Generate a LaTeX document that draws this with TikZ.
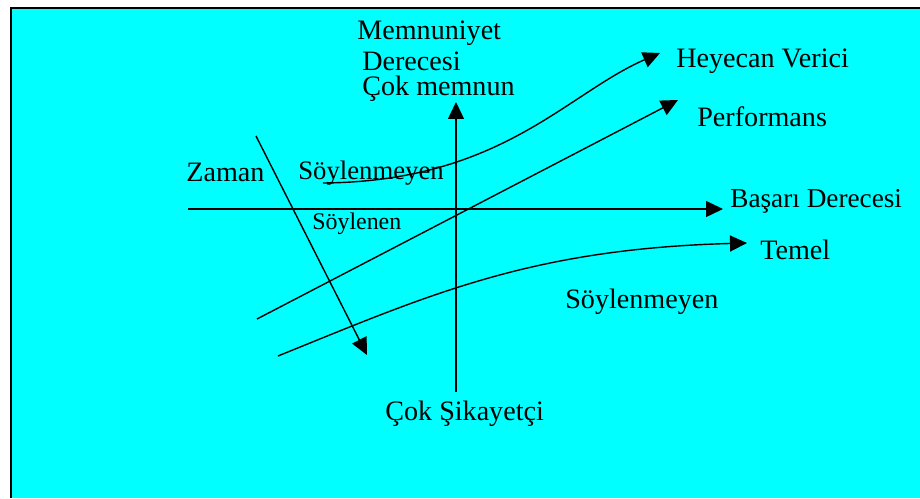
\documentclass[tikz,border=0pt]{standalone}
\usepackage{fontspec}
\setmainfont{Liberation Serif}
\usetikzlibrary{arrows.meta}
\definecolor{bgcyan}{RGB}{0,255,255}
\tikzset{
  arr/.style={line width=0.8pt, -{Triangle[length=0.34cm,width=0.32cm]}},
  lbl/.style={anchor=west, inner sep=0pt, font=\fontsize{16}{18}\selectfont},
  smalllbl/.style={lbl, font=\fontsize{13.6}{15}\selectfont}
}
\begin{document}
\begin{tikzpicture}
    \useasboundingbox (-9.12,-5.78) rectangle (9.28,4.18);
    %background and frame
    \fill[bgcyan] (-8.9,-5.78) rectangle (9.28,4.02);
    \draw[line width=1.1pt] (-8.9,-5.78) -- (-8.9,4.02) -- (9.28,4.02);

    %end points
    \coordinate (ylo) at (0,-3.66);
    \coordinate (yhi) at (0,2.14);
    \coordinate (xlo) at (-5.36,0);
    \coordinate (xhi) at (5.34,0);
    \coordinate (t0) at (-4.0,1.46);
    \coordinate (t1) at (-1.78,-2.92);
    \coordinate (p0) at (-3.98,-2.2);
    \coordinate (p1) at (4.44,2.18);
    \coordinate (h0) at (-2.66,0.52);
    \coordinate (h1) at (4.08,3.12);
    \coordinate (b0) at (-3.56,-2.94);
    \coordinate (b1) at (5.82,-0.68);

    %axis
    \draw[arr] (ylo) -- (yhi);
    \draw[arr] (xlo) -- (xhi);

    %time
    \draw[arr] (t0) -- (t1);

    %curves
    \draw[arr] (p0) -- (p1);
    \draw[arr] (h0) .. controls (0.9,0.55) and (2.2,2.3) .. (h1);
    \draw[arr] (b0) .. controls (-0.5,-1.7) and (1.5,-0.8) .. (b1);

    %labels
    \node[lbl] (mem) at (-1.98,3.52) {Memnuniyet};
    \node[lbl] (der) at (-1.88,2.96) {Derecesi};
    \node[lbl] (cokm) at (-1.88,2.4) {Çok memnun};
    \node[lbl] (heyecan) at (4.4,2.96) {Heyecan Verici};
    \node[lbl] (perf) at (4.82,1.84) {Performans};
    \node[lbl] (zaman) at (-5.4,0.74) {Zaman};
    \node[lbl, font=\fontsize{15.2}{17}\selectfont] (soyl1) at (-3.16,0.72) {Söylenmeyen};
    \node[lbl, font=\fontsize{15.5}{17}\selectfont] (basari) at (5.48,0.16) {Başarı Derecesi};
    \node[smalllbl] (soylenen) at (-2.88,-0.3) {Söylenen};
    \node[lbl] (temel) at (6.08,-0.82) {Temel};
    \node[lbl] (soyl2) at (2.18,-1.86) {Söylenmeyen};
    \node[lbl] (sikayet) at (-1.42,-4.1) {Çok Şikayetçi};
\end{tikzpicture}
\end{document}
